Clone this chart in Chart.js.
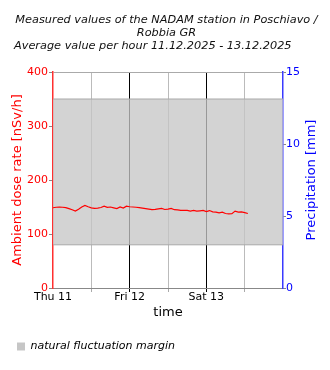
<!DOCTYPE html>
<html>
<head>
<meta charset="utf-8">
<script src="https://cdn.jsdelivr.net/npm/chart.js@4/dist/chart.umd.min.js"></script>
<style>
  html, body { margin: 0; padding: 0; background: #fff; }
  #wrap { width: 330px; height: 370px; }
</style>
</head>
<body>
<div id="wrap"><canvas id="c" width="330" height="370"></canvas></div>
<script>
// Chart heading (three lines)
const titleLines = [
  'Measured values of the NADAM station in Poschiavo /',
  'Robbia GR',
  'Average value per hour 11.12.2025 - 13.12.2025'
];

// Day labels shown at each midnight
const dayLabels = ['Thu 11', 'Fri 12', 'Sat 13'];
const hoursShown = 72;

// Hourly ambient dose rate [nSv/h], starting Thu 11 00:00
const doseRate = [
  148.6, 149.5, 150.0, 149.5, 148.8, 147.0, 145.0, 142.5, 146.0, 150.0,
  153.0, 150.5, 148.5, 147.5, 148.0, 149.0, 151.5, 149.5, 150.0, 148.5,
  147.0, 150.0, 148.0, 151.5, 150.5, 150.0, 149.5, 148.8, 148.0, 147.0,
  146.0, 145.0, 145.5, 146.5, 147.5, 145.4, 146.0, 147.3, 145.0, 144.5,
  143.6, 143.6, 143.6, 142.3, 143.6, 142.5, 143.0, 143.6, 141.5, 143.4,
  141.0, 140.5, 139.2, 140.4, 138.0, 137.3, 137.5, 142.3, 140.5, 141.0,
  139.5, 138.0
];

// Natural fluctuation margin [nSv/h]
const marginLow = 80;
const marginHigh = 350;
const marginLabel = 'natural fluctuation margin';

// Axis ranges and titles
const doseMax = 400;
const precipMax = 15;
const doseTitle = 'Ambient dose rate [nSv/h]';
const precipTitle = 'Precipitation [mm]';

const FONT = '"DejaVu Sans", "Liberation Sans", sans-serif';

const dosePoints = doseRate.map((v, h) => ({ x: h, y: v }));
const lowEdge = [{ x: 0, y: marginLow }, { x: hoursShown, y: marginLow }];
const highEdge = [{ x: 0, y: marginHigh }, { x: hoursShown, y: marginHigh }];

// Draws the three-line heading and the right-hand axis title (read bottom-up)
const headingPlugin = {
  id: 'heading',
  afterDraw(chart) {
    const ctx = chart.ctx;
    ctx.save();
    ctx.font = 'italic 11.3px ' + FONT;
    ctx.fillStyle = '#111';
    ctx.textBaseline = 'middle';
    ctx.textAlign = 'center';
    ctx.fillText(titleLines[0], 166.5, 20.5);
    ctx.fillText(titleLines[1], 166.5, 33.5);
    ctx.textAlign = 'left';
    ctx.fillText(titleLines[2], 14, 46);
    ctx.restore();

    const area = chart.chartArea;
    ctx.save();
    ctx.font = '13px ' + FONT;
    ctx.fillStyle = '#0000ff';
    ctx.textAlign = 'center';
    ctx.textBaseline = 'middle';
    ctx.translate(chart.width - 18.5, (area.top + area.bottom) / 2);
    ctx.rotate(-Math.PI / 2);
    ctx.fillText(precipTitle, 0, 0);
    ctx.restore();
  }
};

new Chart(document.getElementById('c'), {
  type: 'line',
  data: {
    datasets: [
      {
        label: 'Ambient dose rate',
        data: dosePoints,
        borderColor: '#ff0000',
        borderWidth: 1.2,
        pointRadius: 0,
        fill: false,
        tension: 0,
        yAxisID: 'y'
      },
      {
        label: 'margin low',
        data: lowEdge,
        borderColor: '#a9a9a9',
        borderWidth: 1,
        pointRadius: 0,
        fill: false,
        yAxisID: 'y'
      },
      {
        label: marginLabel,
        data: highEdge,
        borderColor: '#a9a9a9',
        borderWidth: 1,
        backgroundColor: 'rgba(198,198,198,0.77)',
        pointRadius: 0,
        fill: 1,
        yAxisID: 'y'
      }
    ]
  },
  options: {
    responsive: false,
    animation: false,
    events: [],
    devicePixelRatio: 1,
    layout: { padding: { top: 72, left: 0, right: 0, bottom: 8 } },
    plugins: {
      tooltip: { enabled: false },
      title: { display: false },
      legend: {
        display: true,
        position: 'bottom',
        align: 'start',
        labels: {
          boxWidth: 8,
          boxHeight: 8,
          padding: 17,
          color: '#222',
          font: { family: FONT, size: 11, style: 'italic' },
          generateLabels() {
            return [{
              text: marginLabel,
              fillStyle: '#c6c6c6',
              strokeStyle: '#c6c6c6',
              lineWidth: 0,
              hidden: false,
              datasetIndex: 2
            }];
          }
        }
      }
    },
    scales: {
      x: {
        type: 'linear',
        min: 0,
        max: hoursShown,
        afterFit(scale) { scale.height = 36; },
        ticks: {
          stepSize: 12,
          autoSkip: false,
          maxRotation: 0,
          padding: -1,
          color: '#000',
          font: { family: FONT, size: 11 },
          callback(v) {
            const d = v / 24;
            return (v % 24 === 0 && d < dayLabels.length) ? dayLabels[d] : '';
          }
        },
        grid: {
          drawTicks: true,
          tickLength: 4,
          color(ctx) {
            const v = ctx.tick ? ctx.tick.value : 0;
            if (v <= 0 || v >= hoursShown) return 'rgba(0,0,0,0)';
            return v % 24 === 0 ? '#000' : '#bbbbbb';
          },
          tickColor(ctx) {
            const v = ctx.tick ? ctx.tick.value : 0;
            if (v <= 0 || v >= hoursShown) return 'rgba(0,0,0,0)';
            return v % 24 === 0 ? '#000' : '#aaaaaa';
          }
        },
        border: { color: '#888', width: 1 },
        title: {
          display: true,
          text: 'time',
          color: '#000',
          font: { family: FONT, size: 13 },
          padding: { top: 0, bottom: 4 }
        }
      },
      y: {
        type: 'linear',
        position: 'left',
        min: 0,
        max: doseMax,
        afterFit(scale) { scale.width = 53; },
        ticks: {
          stepSize: 100,
          padding: 1,
          color: '#ff0000',
          font: { family: FONT, size: 11 }
        },
        grid: {
          tickLength: 4,
          color(ctx) {
            return ctx.tick && ctx.tick.value === doseMax ? '#aaaaaa' : 'rgba(0,0,0,0)';
          },
          tickColor: '#888'
        },
        border: { color: '#ff3030', width: 1.5 },
        title: {
          display: true,
          text: doseTitle,
          color: '#ff0000',
          font: { family: FONT, size: 13 },
          padding: { top: 10, bottom: 0 }
        }
      },
      y2: {
        type: 'linear',
        position: 'right',
        min: 0,
        max: precipMax,
        afterFit(scale) { scale.width = 47; },
        ticks: {
          stepSize: 5,
          padding: 0,
          color: '#0000ff',
          font: { family: FONT, size: 11 }
        },
        grid: {
          drawOnChartArea: false,
          tickLength: 3,
          tickColor: '#888'
        },
        border: { color: '#3a3aff', width: 1.5 },
        title: { display: false }
      }
    }
  },
  plugins: [headingPlugin]
});
</script>
</body>
</html>
